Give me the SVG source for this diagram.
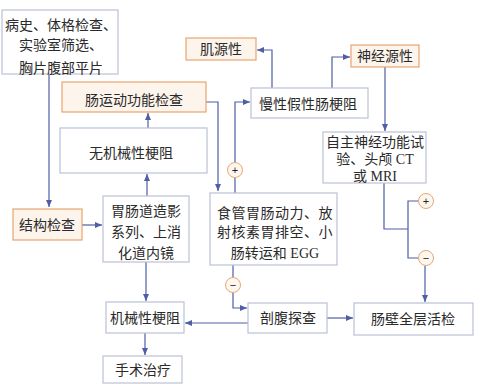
<svg xmlns="http://www.w3.org/2000/svg" width="479" height="387" viewBox="0 0 479 387">
<style>
.b{fill:#ffffff;stroke:#b9c1d6;stroke-width:1.2}
.o{fill:#fdf4ec;stroke:#e8a470;stroke-width:1.2}
.t{font-family:"Liberation Serif","Noto Sans CJK SC",serif;font-size:14px;fill:#2a2a2a;text-anchor:middle}
.l{fill:none;stroke:#4f5ea6;stroke-width:1.2}
.c{fill:#fff7ee;stroke:#e3a878;stroke-width:1}
.s{font-family:"Liberation Sans",sans-serif;font-size:11px;fill:#222;text-anchor:middle}
</style>
<defs>
<marker id="a" markerUnits="userSpaceOnUse" markerWidth="8" markerHeight="8" refX="7" refY="4" orient="auto">
<path d="M0,1 L7,4 L0,7 z" fill="#4f5ea6"/>
</marker>
</defs>
<g id="connectors">
<path class="l" d="M49,74 V207" marker-end="url(#a)"/>
<path class="l" d="M82,225 H102" marker-end="url(#a)"/>
<path class="l" d="M147,196 V174" marker-end="url(#a)"/>
<path class="l" d="M148,128 V113" marker-end="url(#a)"/>
<path class="l" d="M206,102 H218 V191" marker-end="url(#a)"/>
<path class="l" d="M235,193 V178"/>
<path class="l" d="M235,162 V102 H250" marker-end="url(#a)"/>
<path class="l" d="M272,88 V50 H257" marker-end="url(#a)"/>
<path class="l" d="M332,88 V57 H350" marker-end="url(#a)"/>
<path class="l" d="M385,67 V131" marker-end="url(#a)"/>
<path class="l" d="M384,183 V229 H408"/>
<path class="l" d="M418,201 H408 V258 H418"/>
<path class="l" d="M425,266 V302" marker-end="url(#a)"/>
<path class="l" d="M233,265 V277"/>
<path class="l" d="M233,293 V308 H247" marker-end="url(#a)"/>
<path class="l" d="M327,318 H353" marker-end="url(#a)"/>
<path class="l" d="M248,323 H185" marker-end="url(#a)"/>
<path class="l" d="M146,262 V301" marker-end="url(#a)"/>
<path class="l" d="M145,333 V355" marker-end="url(#a)"/>
</g>
<g id="n1"><rect class="b" x="2" y="10" width="116" height="64"/>
<text class="t" x="61" y="30">病史、体格检查、</text>
<text class="t" x="61" y="50">实验室筛选、</text>
<text class="t" x="61" y="73">胸片腹部平片</text></g>
<g id="n2"><rect class="o" x="186" y="38" width="70" height="22"/><text class="t" x="221" y="54">肌源性</text></g>
<g id="n3"><rect class="o" x="62" y="82" width="144" height="30"/><text class="t" x="134" y="105">肠运动功能检查</text></g>
<g id="n4"><rect class="b" x="251" y="88" width="117" height="30"/><text class="t" x="308" y="109">慢性假性肠梗阻</text></g>
<g id="n5"><rect class="o" x="351" y="45" width="68" height="22"/><text class="t" x="385" y="61">神经源性</text></g>
<g id="n6"><rect class="b" x="60" y="128" width="147" height="45"/><text class="t" x="131" y="158">无机械性梗阻</text></g>
<g id="n7"><rect class="b" x="323" y="132" width="103" height="51"/>
<text class="t" x="375" y="147">自主神经功能试</text>
<text class="t" x="375" y="164">验、头颅 CT</text>
<text class="t" x="375" y="181">或 MRI</text></g>
<g id="n8"><rect class="o" x="13" y="209" width="69" height="31"/><text class="t" x="47" y="230">结构检查</text></g>
<g id="n9"><rect class="b" x="103" y="196" width="86" height="66"/>
<text class="t" x="146" y="216">胃肠道造影</text>
<text class="t" x="146" y="237">系列、上消</text>
<text class="t" x="146" y="258">化道内镜</text></g>
<g id="n10"><rect class="b" x="210" y="193" width="127" height="72"/>
<text class="t" x="275" y="218" letter-spacing="0.5">食管胃肠动力、放</text>
<text class="t" x="275" y="237" letter-spacing="0.5">射核素胃排空、小</text>
<text class="t" x="275" y="258">肠转运和 EGG</text></g>
<g id="cp1"><circle class="c" cx="235" cy="170" r="7.5"/><text class="s" x="235" y="174">+</text></g>
<g id="cm1"><circle class="c" cx="233" cy="285" r="7.5"/><text class="s" x="233" y="289">−</text></g>
<g id="cp2"><circle class="c" cx="426" cy="201" r="7.5"/><text class="s" x="426" y="205">+</text></g>
<g id="cm2"><circle class="c" cx="426" cy="258" r="7.5"/><text class="s" x="426" y="262">−</text></g>
<g id="n11"><rect class="b" x="354" y="303" width="119" height="32"/><text class="t" x="413" y="324">肠壁全层活检</text></g>
<g id="n12"><rect class="b" x="248" y="303" width="79" height="30"/><text class="t" x="288" y="323">剖腹探查</text></g>
<g id="n13"><rect class="b" x="106" y="302" width="78" height="31"/><text class="t" x="145" y="323">机械性梗阻</text></g>
<g id="n14"><rect class="b" x="103" y="356" width="79" height="27"/><text class="t" x="143" y="375">手术治疗</text></g>
</svg>
